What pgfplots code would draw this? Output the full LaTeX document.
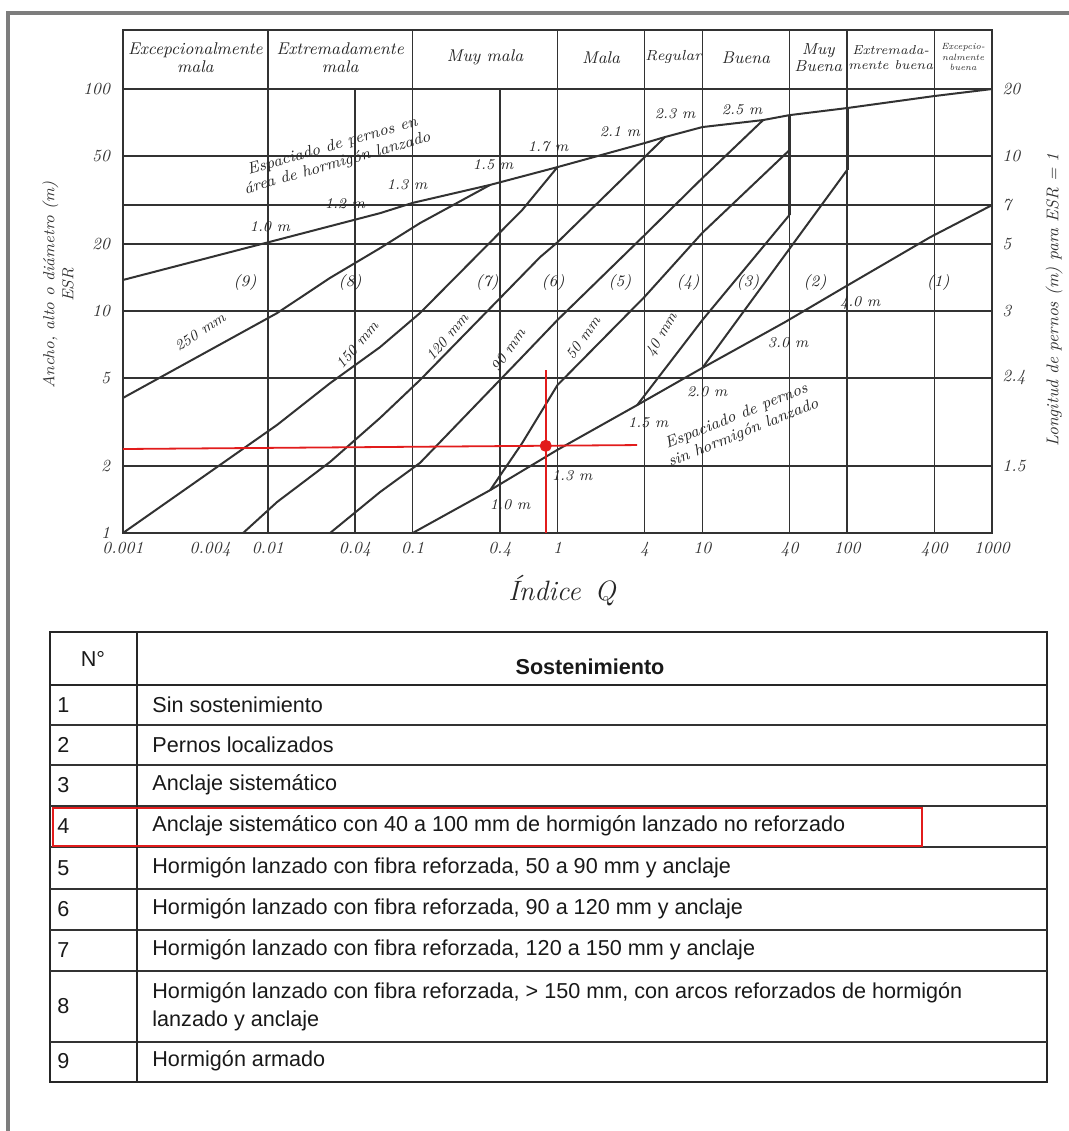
\documentclass[border=0pt]{standalone}
\usepackage{pgfplots}
\pgfplotsset{compat=1.18}
\usepackage{fontspec}
\newfontfamily\arialf{Liberation Sans}
\definecolor{redl}{RGB}{226,28,28}
\definecolor{gridc}{RGB}{50,50,50}
\definecolor{framec}{RGB}{125,125,125}
\begin{document}
\begin{tikzpicture}[
  lab/.style={font=\itshape\fontsize{7.5}{8.5}\selectfont, text=black!85, inner sep=1pt},
  reg/.style={font=\itshape\fontsize{8}{9}\selectfont, text=black!85, inner sep=1pt},
  rlab/.style={anchor=west, font=\itshape\fontsize{8.5}{10}\selectfont, text=black!80, inner sep=1pt},
  hdr/.style={font=\itshape\fontsize{8.5}{9}\selectfont, text=black!85, align=center, inner sep=0pt},
]
\path[use as bounding box] (-61.5pt,266.5pt) rectangle (473pt,-299pt);
\begin{axis}[
  at={(0pt,0pt)}, anchor=south west,
  scale only axis, width=434.5pt, height=251.5pt,
  xmode=log, ymode=log,
  xmin=0.001, xmax=1000, ymin=1, ymax=184.5,
  axis line style={gridc, line width=0.9pt},
  xtick={0.001,0.004,0.01,0.04,0.1,0.4,1,4,10,40,100,400,1000},
  xticklabels={0.001,0.004,0.01,0.04,0.1,0.4,1,4,10,40,100,400,1000},
  ytick={1,2,5,10,20,50,100},
  yticklabels={1,2,5,10,20,50,100},
  tick style={draw=none},
  xticklabel style={font=\itshape\fontsize{8.5}{10}\selectfont, text=black!80, yshift=-1pt},
  yticklabel style={font=\itshape\fontsize{8.5}{10}\selectfont, text=black!80, xshift=-3pt},
  clip=false,
  crv/.style={draw=gridc, solid, mark=none, line width=1pt},
]
% grid
\pgfplotsinvokeforeach{2,5,10,20,30,50,100}{\draw[gridc, line width=0.8pt] (axis cs:0.001,#1) -- (axis cs:1000,#1);}
\pgfplotsinvokeforeach{0.01,0.1,1,4,10,40,100,400}{\draw[gridc, line width=0.8pt] (axis cs:#1,1) -- (axis cs:#1,184.5);}
\pgfplotsinvokeforeach{0.04,0.4}{\draw[gridc, line width=0.8pt] (axis cs:#1,1) -- (axis cs:#1,100);}

% bolt spacing in shotcrete area
\addplot[crv] coordinates {(0.001,13.8) (0.0116,20.9) (0.0596,27.6) (0.1,30.7) (0.343,37.0) (1,44.5) (4,57.1) (5.53,60.8) (10,67.4) (26.3,72.5) (40,76.3) (100,82.1) (400,93) (1000,100)};
% bolt spacing without shotcrete
\addplot[crv] coordinates {(0.1,1) (0.343,1.56) (1,2.37) (3.55,3.77) (10,5.54) (37.3,8.92) (93.7,12.7) (374,21.5) (1000,30)};
% 250 mm
\addplot[crv] coordinates {(0.001,4.06) (0.0116,9.79) (0.0269,14.1) (0.0596,19.2) (0.1125,24.9) (0.343,37.0)};
% 150 mm
\addplot[crv] coordinates {(0.001,1) (0.0116,3.07) (0.0269,4.73) (0.0596,6.88) (0.1125,9.8) (0.570,28.5) (1,44.5)};
% 120 mm
\addplot[crv] coordinates {(0.00675,1) (0.0116,1.38) (0.0269,2.09) (0.0596,3.30) (0.1125,4.89) (0.759,17.5) (1,20.4) (4,49.4) (5.53,60.8)};
% 90 mm
\addplot[crv] coordinates {(0.0269,1) (0.0596,1.53) (0.1125,2.07) (0.570,6.21) (1,9.11) (4,22.0) (10,39.7) (26.3,72.5)};
% 50 mm
\addplot[crv] coordinates {(0.343,1.56) (0.570,2.54) (1,4.64) (4,11.6) (10,22.5) (40,53.1)};
% 40 mm
\addplot[crv] coordinates {(3.55,3.77) (10,9.1) (40,27.1)};
% boundary 2/3
\addplot[crv] coordinates {(10,5.54) (100,43.2)};
\addplot[crv, line width=1.4pt] coordinates {(40,27.1) (40,76.3)};
\addplot[crv, line width=1.4pt] coordinates {(100,43.2) (100,82.1)};

% red marker
\addplot[redl, line width=0.9pt] coordinates {(0.001,2.39) (3.55,2.49)};
\addplot[redl, line width=0.9pt] coordinates {(0.83,1) (0.83,5.42)};
\addplot[redl, only marks, mark=*, mark size=2.8pt, mark options={fill=redl, draw=redl}] coordinates {(0.83,2.47)};

% header
\node[hdr] at (axis cs:0.00316,139) {Excepcionalmente\\mala};
\node[hdr] at (axis cs:0.0316,139) {Extremadamente\\mala};
\node[hdr] at (axis cs:0.316,139) {Muy mala};
\node[hdr] at (axis cs:2,139) {Mala};
\node[hdr, font=\itshape\fontsize{7.3}{9}\selectfont] at (axis cs:6.32,139) {Regular};
\node[hdr] at (axis cs:20,139) {Buena};
\node[hdr, font=\itshape\fontsize{8}{8.5}\selectfont] at (axis cs:63.2,139) {Muy\\Buena};
\node[hdr, font=\itshape\fontsize{6.5}{7.5}\selectfont] at (axis cs:200,139) {Extremada-\\mente buena};
\node[hdr, font=\itshape\fontsize{4.5}{5.2}\selectfont] at (axis cs:632,139) {Excepcio-\\nalmente\\buena};

% region numbers
\node[reg] at (axis cs:0.00697,13.4) {(9)};
\node[reg] at (axis cs:0.037,13.4) {(8)};
\node[reg] at (axis cs:0.327,13.4) {(7)};
\node[reg] at (axis cs:0.933,13.4) {(6)};
\node[reg] at (axis cs:2.70,13.4) {(5)};
\node[reg] at (axis cs:7.98,13.4) {(4)};
\node[reg] at (axis cs:20.7,13.4) {(3)};
\node[reg] at (axis cs:60.1,13.4) {(2)};
\node[reg] at (axis cs:425,13.4) {(1)};

% spacing labels upper
\node[lab] at (axis cs:0.01035,24.1) {1.0 m};
\node[lab] at (axis cs:0.0341,30.6) {1.2 m};
\node[lab] at (axis cs:0.0914,37.0) {1.3 m};
\node[lab] at (axis cs:0.359,45.5) {1.5 m};
\node[lab] at (axis cs:0.861,54.8) {1.7 m};
\node[lab] at (axis cs:2.70,64.0) {2.1 m};
\node[lab] at (axis cs:6.49,77.1) {2.3 m};
\node[lab] at (axis cs:18.8,80.4) {2.5 m};
% spacing labels lower
\node[lab] at (axis cs:0.471,1.34) {1.0 m};
\node[lab] at (axis cs:1.26,1.82) {1.3 m};
\node[lab] at (axis cs:4.23,3.13) {1.5 m};
\node[lab] at (axis cs:10.8,4.32) {2.0 m};
\node[lab] at (axis cs:39.1,7.18) {3.0 m};
\node[lab] at (axis cs:123,10.9) {4.0 m};

% thickness labels
\node[lab, rotate=33] at (axis cs:0.0034,8.04) {250 mm};
\node[lab, rotate=50] at (axis cs:0.0413,7.03) {150 mm};
\node[lab, rotate=50] at (axis cs:0.173,7.64) {120 mm};
\node[lab, rotate=55] at (axis cs:0.456,6.67) {90 mm};
\node[lab, rotate=55] at (axis cs:1.50,7.56) {50 mm};
\node[lab, rotate=60] at (axis cs:5.27,7.79) {40 mm};

\node[reg, rotate=16, align=center] at (axis cs:0.0291,50.4) {Espaciado de pernos en\\área de hormigón lanzado};
\node[reg, rotate=22, align=center] at (axis cs:18.2,3.07) {Espaciado de pernos\\sin hormigón lanzado};

% right axis labels
\node[rlab] at ([xshift=4pt]axis cs:1000,100) {20};
\node[rlab] at ([xshift=4pt]axis cs:1000,50) {10};
\node[rlab] at ([xshift=4pt]axis cs:1000,30) {7};
\node[rlab] at ([xshift=4pt]axis cs:1000,20) {5};
\node[rlab] at ([xshift=4pt]axis cs:1000,10) {3};
\node[rlab] at ([xshift=4pt]axis cs:1000,5) {2.4};
\node[rlab] at ([xshift=4pt]axis cs:1000,2) {1.5};
\end{axis}

\begin{scope}[shift={(-61.5pt,266.5pt)},x=0.5pt,y=-0.5pt]
% outer frame
\draw[framec, line width=1.6pt] (8,1135) -- (8,13) -- (1075,13);
% axis titles
\node[rotate=90, align=center, font=\itshape\fontsize{8}{9.5}\selectfont, text=black!80] at (58,285) {Ancho, alto o diámetro (m)\\ESR};
\node[rotate=90, font=\itshape\fontsize{8.5}{10}\selectfont, text=black!80] at (1054,300) {Longitud de pernos (m) para ESR = 1};
\node[font=\itshape\fontsize{14}{16}\selectfont, text=black!85] at (562,591) {Índice\enspace Q};

% table
\draw[black!85, line width=1.2pt] (50,632) rectangle (1047,1082);
\draw[black!85, line width=1.2pt] (50,685) -- (1047,685);
\foreach \yy in {725,765,806,847,889,930,971,1042} {\draw[black!80, line width=0.9pt] (50,\yy) -- (1047,\yy);}
\draw[black!85, line width=0.9pt] (137,632) -- (137,1082);
\draw[redl, line width=0.8pt] (53,808) rectangle (922,846);

\begin{scope}[every node/.style={font=\arialf\fontsize{10.8}{12}\selectfont, anchor=west, inner sep=0pt, text=black!90}]
\node[anchor=center] at (93,659) {N°};
\node[anchor=center, font=\arialf\bfseries\fontsize{10.8}{12}\selectfont] at (590,667) {Sostenimiento};
\node at (57,705) {1}; \node at (152,705) {Sin sostenimiento};
\node at (57,745) {2}; \node at (152,745) {Pernos localizados};
\node at (57,785) {3}; \node at (152,785) {Anclaje sistemático};
\node at (57,826) {4}; \node at (152,826) {Anclaje sistemático con 40 a 100 mm de hormigón lanzado no reforzado};
\node at (57,868) {5}; \node at (152,868) {Hormigón lanzado con fibra reforzada, 50 a 90 mm y anclaje};
\node at (57,909) {6}; \node at (152,909) {Hormigón lanzado con fibra reforzada, 90 a 120 mm y anclaje};
\node at (57,950) {7}; \node at (152,950) {Hormigón lanzado con fibra reforzada, 120 a 150 mm y anclaje};
\node at (57,1006) {8}; \node at (152,993) {Hormigón lanzado con fibra reforzada, > 150 mm, con arcos reforzados de hormigón};
\node at (152,1021) {lanzado y anclaje};
\node at (57,1061) {9}; \node at (152,1061) {Hormigón armado};
\end{scope}
\end{scope}
\end{tikzpicture}
\end{document}
